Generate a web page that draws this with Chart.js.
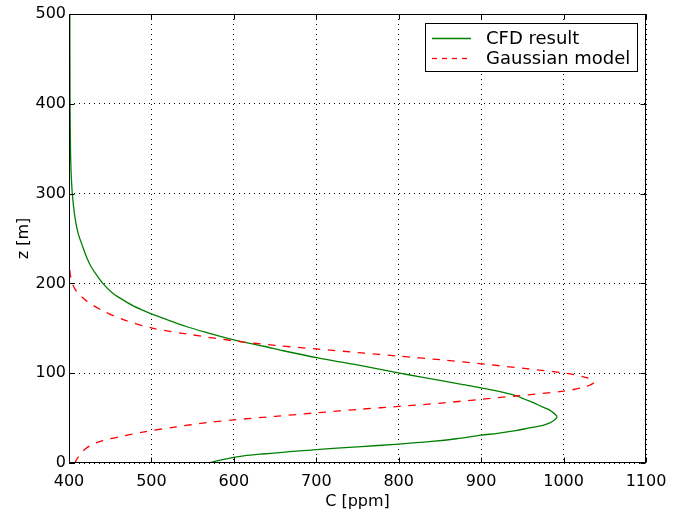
<!DOCTYPE html>
<html>
<head>
<meta charset="utf-8">
<script src="https://cdn.jsdelivr.net/npm/chart.js@4/dist/chart.umd.min.js"></script>
<style>
  html, body { margin: 0; padding: 0; background: #ffffff; }
  #wrap { width: 681px; height: 515px; }
</style>
</head>
<body>
<div id="wrap"><canvas id="c" width="681" height="515"></canvas></div>
<script>
// ---- Data ----
const seriesNames = ["CFD result", "Gaussian model"];

// CFD result: height z [m] and concentration C [ppm]
const cfdZ = [0, 2, 4, 6, 8, 10, 12, 15, 18, 21, 24, 27, 31, 33, 36, 39, 42, 45, 48, 51,
              54, 57, 60, 63, 67, 71, 75, 80, 84, 88, 92, 96, 100, 105, 110, 117, 125, 130,
              137, 145, 152, 160, 166, 175, 183, 190, 200, 210, 220, 230, 240, 256, 275,
              300, 325, 350, 400, 450, 500];
const cfdC = [570, 578, 588, 598, 612, 635, 662, 700, 750, 800, 840, 870, 900, 920, 942, 958, 975, 984, 989, 992,
              990, 986, 981, 973, 964, 953, 942, 920, 898, 873, 850, 826, 801, 773, 745, 702, 660, 636,
              600, 568, 542, 518, 500, 478, 463, 452, 441, 433, 426, 421, 417, 411, 407,
              404, 402.5, 401.8, 401.3, 401.1, 401];

// Gaussian model: height z [m] and concentration C [ppm]
const gaussZ = [0, 5, 10, 15, 20, 25, 30, 35, 40, 45, 48, 52, 56, 60, 63, 67, 71, 75, 80, 85,
                90, 95, 100, 105, 110, 115, 119, 123, 127, 131, 136, 143, 150, 160, 170, 180,
                190, 200, 210, 220, 240];
const gaussC = [407, 410, 414, 419, 427, 441, 465, 493, 528, 568, 600, 650, 702, 755, 800, 855, 900, 946, 1000, 1027,
                1037, 1028, 1002, 955, 905, 850, 800, 750, 700, 650, 600, 548, 502, 465, 440, 422,
                410, 404, 401.5, 400.5, 400];

const xTicks = [400, 500, 600, 700, 800, 900, 1000, 1100];
const yTicks = [0, 100, 200, 300, 400, 500];

const toPoints = (xs, ys) => xs.map((x, i) => ({ x: x, y: ys[i] }));

// ---- Plugin: frame, inward ticks, legend ----
const framePlugin = {
  id: 'frame',
  afterDraw(chart) {
    const { ctx, chartArea: a, scales } = chart;
    ctx.save();
    ctx.strokeStyle = '#000';
    ctx.lineWidth = 1;
    const L = Math.round(a.left) + 0.5, R = Math.round(a.right) - 0.5;
    const T = Math.round(a.top) + 0.5, B = Math.round(a.bottom) - 0.5;
    ctx.strokeRect(L, T, R - L, B - T);
    const len = 5;
    ctx.beginPath();
    xTicks.forEach(v => {
      const px = Math.round(scales.x.getPixelForValue(v)) + 0.5;
      ctx.moveTo(px, B); ctx.lineTo(px, B - len);
      ctx.moveTo(px, T); ctx.lineTo(px, T + len);
    });
    yTicks.forEach(v => {
      const py = Math.round(scales.y.getPixelForValue(v)) + 0.5;
      ctx.moveTo(L, py); ctx.lineTo(L + len, py);
      ctx.moveTo(R, py); ctx.lineTo(R - len, py);
    });
    ctx.stroke();

    // legend
    const bx = 425.5, by = 23.5, bw = 212, bh = 48;
    ctx.fillStyle = '#fff';
    ctx.fillRect(bx, by, bw, bh);
    ctx.strokeStyle = '#000';
    ctx.strokeRect(bx, by, bw, bh);
    const rows = [38, 58];
    chart.data.datasets.forEach((ds, i) => {
      const y = rows[i] + 0.5;
      ctx.save();
      ctx.strokeStyle = ds.borderColor;
      ctx.lineWidth = ds.borderWidth;
      ctx.setLineDash(ds.borderDash && ds.borderDash.length ? [5, 5] : []);
      ctx.beginPath();
      ctx.moveTo(432, y); ctx.lineTo(471, y);
      ctx.stroke();
      ctx.restore();
      ctx.fillStyle = '#000';
      ctx.font = '18px "DejaVu Sans"';
      ctx.textBaseline = 'middle';
      ctx.textAlign = 'left';
      ctx.fillText(ds.label, 486, rows[i] + 1);
    });
    ctx.restore();
  }
};

const tickFont = { family: 'DejaVu Sans', size: 16 };

new Chart(document.getElementById('c'), {
  type: 'scatter',
  data: {
    datasets: [
      {
        label: seriesNames[0],
        data: toPoints(cfdC, cfdZ),
        showLine: true,
        borderColor: '#008000',
        backgroundColor: '#008000',
        borderWidth: 1.3,
        pointRadius: 0,
        tension: 0.3,
        order: 1
      },
      {
        label: seriesNames[1],
        data: toPoints(gaussC, gaussZ),
        showLine: true,
        borderColor: '#ff0000',
        backgroundColor: '#ff0000',
        borderWidth: 1.3,
        borderDash: [7.5, 7.5],
        pointRadius: 0,
        tension: 0.3,
        order: 0
      }
    ]
  },
  options: {
    responsive: false,
    animation: false,
    events: [],
    layout: { padding: { left: 0, top: 14, right: 35, bottom: 0 } },
    plugins: {
      legend: { display: false },
      tooltip: { enabled: false }
    },
    scales: {
      x: {
        type: 'linear',
        min: 400, max: 1100,
        afterBuildTicks: s => { s.ticks = xTicks.map(v => ({ value: v })); },
        afterFit: s => { s.height = 52; },
        ticks: { color: '#000', font: tickFont, padding: 9, maxRotation: 0, callback: v => String(v) },
        grid: { color: '#000', lineWidth: 1, drawTicks: false },
        border: { display: false, dash: [1, 4] },
        title: { display: true, text: 'C [ppm]', color: '#000', font: tickFont, padding: { top: 0, bottom: 4 } }
      },
      y: {
        type: 'linear',
        min: 0, max: 500,
        afterBuildTicks: s => { s.ticks = yTicks.map(v => ({ value: v })); },
        afterFit: s => { s.width = 69; },
        ticks: { color: '#000', font: tickFont, padding: 3, callback: v => String(v) },
        grid: { color: '#000', lineWidth: 1, drawTicks: false },
        border: { display: false, dash: [1, 4] },
        title: { display: true, text: 'z [m]', color: '#000', font: tickFont, padding: { top: 14, bottom: 0 } }
      }
    }
  },
  plugins: [framePlugin]
});
</script>
</body>
</html>
